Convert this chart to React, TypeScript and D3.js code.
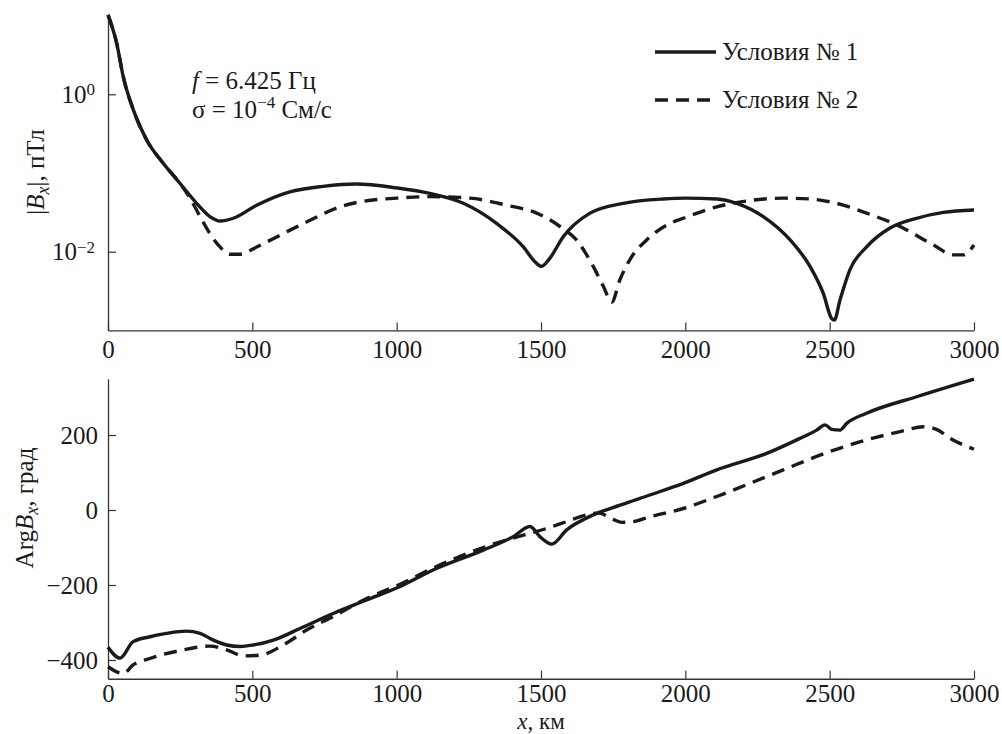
import React, { useEffect, useRef } from 'react';
import * as d3 from 'd3';

type Pt = [number, number];

const X_TICKS = [0, 500, 1000, 1500, 2000, 2500, 3000];
const AMP_TICKS = [1, 0.01];
const PHASE_TICKS = [-400, -200, 0, 200];
const LEGEND = ['Условия № 1', 'Условия № 2'];

// |Bx|, pT — conditions 1 (solid)
const amp1: Pt[] = [
  [0, 10.2], [30, 4.47], [53, 1.66], [88, 0.63], [134, 0.263], [192, 0.132], [249, 0.0741],
  [307, 0.0412], [353, 0.0279], [388, 0.0245], [434, 0.0266], [515, 0.0389], [630, 0.0575],
  [745, 0.0676], [861, 0.0724], [1000, 0.0646], [1115, 0.055], [1231, 0.0412], [1346, 0.0229],
  [1439, 0.0115], [1480, 0.0074], [1502, 0.0065], [1531, 0.0083], [1577, 0.0155], [1670, 0.0309],
  [1785, 0.0412], [1924, 0.0468], [2000, 0.0479], [2109, 0.0468], [2178, 0.0412], [2270, 0.0279],
  [2363, 0.0141], [2432, 0.0065], [2478, 0.00295], [2507, 0.00141], [2516, 0.00135],
  [2536, 0.00245], [2570, 0.00589], [2628, 0.0115], [2709, 0.02], [2801, 0.0266],
  [2894, 0.0316], [3000, 0.0339],
];

// |Bx|, pT — conditions 2 (dashed)
const amp2: Pt[] = [
  [0, 10.2], [30, 4.47], [53, 1.66], [88, 0.63], [134, 0.263], [192, 0.132], [249, 0.0741],
  [284, 0.048], [319, 0.028], [353, 0.017], [388, 0.0115], [423, 0.0093], [457, 0.0093],
  [515, 0.0115], [607, 0.017], [700, 0.0251], [804, 0.0372], [884, 0.0437], [1000, 0.0479],
  [1115, 0.0501], [1254, 0.0479], [1381, 0.0389], [1485, 0.0309], [1566, 0.0209], [1623, 0.0141],
  [1681, 0.0065], [1716, 0.00363], [1745, 0.00229], [1773, 0.00437], [1808, 0.00794],
  [1866, 0.0141], [1947, 0.0229], [1993, 0.0266], [2109, 0.0372], [2224, 0.0447], [2339, 0.0479],
  [2432, 0.0468], [2524, 0.0412], [2628, 0.0309], [2744, 0.0209], [2859, 0.0122], [2929, 0.0091],
  [2963, 0.0091], [3000, 0.0122],
];

// Arg Bx, degrees — conditions 1
const phase1: Pt[] = [
  [0, -366], [42, -395], [87, -351], [145, -338], [203, -329], [272, -323], [319, -329],
  [365, -347], [411, -360], [457, -364], [503, -360], [573, -347], [665, -316], [780, -276],
  [896, -240], [1012, -204], [1126, -160], [1300, -107], [1404, -71], [1462, -44], [1496, -71],
  [1537, -91], [1589, -53], [1681, -13], [1774, 13], [1877, 40], [1993, 71], [2109, 107],
  [2282, 151], [2397, 191], [2455, 213], [2484, 227], [2507, 215], [2536, 213], [2559, 231],
  [2628, 258], [2801, 302], [3000, 349],
];

// Arg Bx, degrees — conditions 2
const phase2: Pt[] = [
  [0, -418], [53, -436], [87, -413], [145, -396], [261, -373], [353, -363], [411, -373],
  [469, -389], [527, -387], [607, -360], [688, -320], [780, -284], [896, -236], [1012, -198],
  [1126, -155], [1300, -100], [1439, -67], [1508, -52], [1589, -31], [1658, -13], [1700, -8],
  [1750, -25], [1780, -33], [1820, -31], [1877, -18], [1993, 4], [2109, 36], [2224, 71],
  [2339, 107], [2501, 156], [2628, 187], [2744, 209], [2824, 222], [2870, 215], [2917, 191],
  [3000, 162],
];

const FONT = "'Liberation Serif', serif";
const FS = 25;
const DASH = '13,8';
const INK = '#1a1a1a';

export default function App() {
  const ref = useRef<SVGSVGElement>(null);

  useEffect(() => {
    const svg = d3.select(ref.current);
    svg.selectAll('*').remove();

    const x = d3.scaleLinear().domain([0, 3000]).range([108, 974]);
    const yAmp = d3.scaleLog().domain([1e-3, 10]).range([330.4, 15.6]);
    const yPh = d3.scaleLinear().domain([-450, 350]).range([678.75, 378.75]);

    const styleAxis = (g: any) => {
      g.attr('font-family', FONT).attr('font-size', FS);
      g.select('.domain').attr('stroke', '#333').attr('stroke-width', 1.3);
      g.selectAll('.tick line').attr('stroke', '#333').attr('stroke-width', 1.2);
      g.selectAll('text').style('font-family', FONT).attr('font-size', FS).attr('fill', INK);
    };

    // bottom axes
    [{ y0: 330.4, off: 28 }, { y0: 678.75, off: 23 }].forEach(({ y0, off }) => {
      const g = svg.append('g').attr('transform', `translate(0,${y0})`);
      g.call(d3.axisBottom(x).tickValues(X_TICKS).tickSizeInner(-8).tickSizeOuter(0).tickFormat(d3.format('d')));
      styleAxis(g);
      g.selectAll('.tick text').attr('y', off).attr('dy', 0);
    });

    // left axes
    const gA = svg.append('g').attr('transform', 'translate(108,0)');
    gA.call(d3.axisLeft(yAmp).tickValues(AMP_TICKS).tickSizeInner(-8).tickSizeOuter(0).tickFormat(() => ''));
    styleAxis(gA);
    gA.selectAll('.tick text').each(function (d: any) {
      const t = d3.select(this).attr('x', -13).attr('dy', '0.32em').attr('text-anchor', 'end');
      t.text('10');
      t.append('tspan')
        .attr('dy', '-0.45em')
        .attr('font-size', 17)
        .text(d >= 1 ? '0' : '\u22122');
    });

    const gP = svg.append('g').attr('transform', 'translate(108,0)');
    gP.call(d3.axisLeft(yPh).tickValues(PHASE_TICKS).tickSizeInner(-8).tickSizeOuter(0).tickFormat((d: any) => (d < 0 ? '\u2212' + Math.abs(d) : String(d))));
    styleAxis(gP);
    gP.selectAll('.tick text').attr('x', -10);

    // curves
    const lineA = d3.line<Pt>().x((d) => x(d[0])).y((d) => yAmp(d[1])).curve(d3.curveMonotoneX);
    const lineP = d3.line<Pt>().x((d) => x(d[0])).y((d) => yPh(d[1])).curve(d3.curveMonotoneX);

    const draw = (data: Pt[], gen: any, dashed: boolean) => {
      svg.append('path')
        .datum(data)
        .attr('d', gen)
        .attr('fill', 'none')
        .attr('stroke', INK)
        .attr('stroke-width', 3.4)
        .attr('stroke-linejoin', 'round')
        .attr('stroke-dasharray', dashed ? DASH : null);
    };
    draw(amp2, lineA, true);
    draw(amp1, lineA, false);
    draw(phase2, lineP, true);
    draw(phase1, lineP, false);

    const txt = (sel: any) => sel.style('font-family', FONT).attr('font-size', FS).attr('fill', INK);

    // legend
    LEGEND.forEach((label, i) => {
      const ly = 52 + i * 48;
      svg.append('line')
        .attr('x1', 655).attr('x2', 716).attr('y1', ly).attr('y2', ly)
        .attr('stroke', INK).attr('stroke-width', 3.4)
        .attr('stroke-dasharray', i === 1 ? DASH : null);
      txt(svg.append('text').attr('x', 722).attr('y', ly + 8)).text(label);
    });

    // annotation
    const ann1 = txt(svg.append('text').attr('x', 192).attr('y', 89));
    ann1.append('tspan').attr('font-style', 'italic').text('f');
    ann1.append('tspan').text(' = 6.425 Гц');
    const ann2 = txt(svg.append('text').attr('x', 192).attr('y', 118));
    ann2.append('tspan').text('σ = 10');
    ann2.append('tspan').attr('dy', -10).attr('font-size', 17).text('\u22124');
    ann2.append('tspan').attr('dy', 10).text(' См/с');

    // y titles
    const t1 = txt(svg.append('text')
      .attr('transform', 'translate(44,172) rotate(-90)')
      .attr('text-anchor', 'middle'));
    t1.append('tspan').text('|');
    t1.append('tspan').attr('font-style', 'italic').text('B');
    t1.append('tspan').attr('font-style', 'italic').attr('font-size', 18).attr('dy', 5).text('x');
    t1.append('tspan').attr('dy', -5).text('|, пТл');

    const t2 = txt(svg.append('text')
      .attr('transform', 'translate(33,508) rotate(-90)')
      .attr('text-anchor', 'middle'));
    t2.append('tspan').text('Arg');
    t2.append('tspan').attr('font-style', 'italic').text('B');
    t2.append('tspan').attr('font-style', 'italic').attr('font-size', 18).attr('dy', 5).text('x');
    t2.append('tspan').attr('dy', -5).text(', град');

    // x title
    const tx = txt(svg.append('text')
      .attr('x', 541).attr('y', 729)
      .attr('text-anchor', 'middle'));
    tx.attr('font-size', 23);
    tx.append('tspan').attr('font-style', 'italic').text('x');
    tx.append('tspan').text(', км');
  }, []);

  return (
    <svg
      ref={ref}
      width={1002}
      height={734}
      viewBox="0 0 1002 734"
      style={{ position: 'absolute', left: 0, top: 0, background: '#fff' }}
    />
  );
}
